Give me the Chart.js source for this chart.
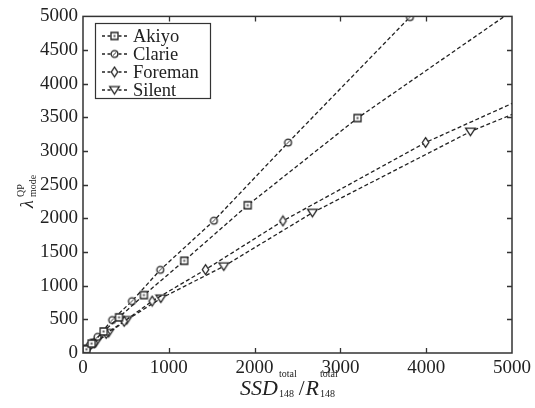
<!DOCTYPE html>
<html><head><meta charset="utf-8">
<script src="https://cdn.jsdelivr.net/npm/chart.js@4.4.0/dist/chart.umd.min.js"></script>
<style>html,body{margin:0;padding:0;background:#fff;}#wrap{width:535px;height:408px;position:relative;}</style>
</head><body><div id="wrap"><canvas id="c"></canvas></div>
<script>
// ---- data ----
const seriesNames = ['Akiyo', 'Clarie', 'Foreman', 'Silent'];
const akiyoX   = [15, 40, 100, 240, 420, 710, 1180, 1920, 3200, 5500];
const akiyoY   = [20, 55, 140, 320, 530, 860, 1370, 2195, 3490, 5520];
const clarieX  = [10, 30, 80, 170, 340, 570, 900, 1525, 2390, 3810];
const clarieY  = [15, 45, 115, 240, 490, 770, 1235, 1965, 3125, 4990];
const foremanX = [20, 50, 130, 270, 480, 806, 1428, 2330, 3993, 6300];
const foremanY = [25, 60, 150, 290, 470, 771, 1239, 1962, 3127, 4455];
const silentX  = [25, 60, 150, 300, 510, 907, 1641, 2674, 4515, 6500];
const silentY  = [28, 65, 155, 300, 491, 811, 1288, 2084, 3289, 4333];
const xTicks = [0, 1000, 2000, 3000, 4000, 5000];
const yTicks = [0, 500, 1000, 1500, 2000, 2500, 3000, 3500, 4000, 4500, 5000];

const INK = '#222';
const SERIF = '"Liberation Serif", "Times New Roman", serif';

function marker(kind){
  const c = document.createElement('canvas'); c.width = 13; c.height = 13;
  const g = c.getContext('2d'); g.strokeStyle = INK; g.fillStyle = '#fff'; g.lineWidth = 1.3;
  const m = 6.5;
  g.beginPath();
  if (kind === 'square') { g.rect(3, 3, 7, 7); }
  else if (kind === 'circle') { g.arc(m, m, 3.4, 0, 2*Math.PI); }
  else if (kind === 'diamond') { g.moveTo(m, m-4.8); g.lineTo(m+3.2, m); g.lineTo(m, m+4.8); g.lineTo(m-3.2, m); g.closePath(); }
  else { g.moveTo(m-4.8, m-3.3); g.lineTo(m+4.8, m-3.3); g.lineTo(m, m+4); g.closePath(); }
  g.fill(); g.stroke();
  if (kind === 'square') { g.fillStyle = '#555'; g.fillRect(5.5, 5.5, 2, 2); }
  if (kind === 'circle') { g.beginPath(); g.lineWidth = 0.9; g.moveTo(m-1.6, m+1.6); g.lineTo(m+1.6, m-1.6); g.stroke(); }
  return c;
}
const markers = [marker('square'), marker('circle'), marker('diamond'), marker('tri')];
const xs = [akiyoX, clarieX, foremanX, silentX];
const ys = [akiyoY, clarieY, foremanY, silentY];

const datasets = seriesNames.map((name, i) => ({
  label: name,
  data: xs[i].map((x, j) => ({x: x, y: ys[i][j]})),
  showLine: true,
  borderColor: INK,
  borderWidth: 1.3,
  borderDash: [4, 2.5],
  pointStyle: markers[i],
  pointRadius: 4,
  fill: false,
  clip: 0
}));

const TL = 5;
const deco = {
  id: 'deco',
  afterDraw(chart){
    const {ctx, chartArea: a, scales: {x, y}} = chart;
    ctx.save();
    // frame
    ctx.strokeStyle = '#333'; ctx.lineWidth = 1.5; ctx.setLineDash([]);
    ctx.strokeRect(a.left, a.top, a.right - a.left, a.bottom - a.top);
    // inward ticks, mirrored
    ctx.lineWidth = 1.3;
    ctx.beginPath();
    x.ticks.forEach(t => {
      const p = Math.round(x.getPixelForValue(t.value)) + 0.5;
      if (p <= a.left + 1 || p >= a.right - 1) return;
      ctx.moveTo(p, a.bottom); ctx.lineTo(p, a.bottom - TL);
      ctx.moveTo(p, a.top); ctx.lineTo(p, a.top + TL);
    });
    y.ticks.forEach(t => {
      const p = Math.round(y.getPixelForValue(t.value)) + 0.5;
      if (p <= a.top + 1 || p >= a.bottom - 1) return;
      ctx.moveTo(a.left, p); ctx.lineTo(a.left + TL, p);
      ctx.moveTo(a.right, p); ctx.lineTo(a.right - TL, p);
    });
    ctx.stroke();

    // legend
    const lx = 95.5, ly = 23.5, lw = 115, lh = 75;
    ctx.fillStyle = '#fff'; ctx.fillRect(lx, ly, lw, lh);
    ctx.strokeStyle = '#333'; ctx.lineWidth = 1.2; ctx.strokeRect(lx, ly, lw, lh);
    ctx.font = '18.5px ' + SERIF; ctx.textBaseline = 'middle'; ctx.textAlign = 'left'; ctx.fillStyle = INK;
    chart.data.datasets.forEach((ds, i) => {
      const cy = 36 + i * 18;
      ctx.strokeStyle = INK; ctx.lineWidth = 1.3; ctx.setLineDash([3, 2.5]);
      ctx.beginPath(); ctx.moveTo(102, cy); ctx.lineTo(127, cy); ctx.stroke();
      ctx.setLineDash([]);
      const m = ds.pointStyle; ctx.drawImage(m, 114.5 - m.width/2, cy - m.height/2);
      ctx.fillText(ds.label, 133, cy + 1);
    });

    // x axis title: SSD^total_148 / R^total_148
    ctx.fillStyle = INK; ctx.textBaseline = 'alphabetic';
    let px = 240; const base = 395;
    const part = (txt, font, dy) => { ctx.font = font; ctx.fillText(txt, px, base + dy); return ctx.measureText(txt).width; };
    const big = 'italic 22px ' + SERIF, bigUp = '21px ' + SERIF, small = '10px ' + SERIF;
    px += part('SSD', big, 0) + 1;
    let w1 = part('total', small, -18); let w2 = part('148', small, 2); px += Math.max(w1, w2) + 2;
    px += part('/', bigUp, 0) + 1;
    px += part('R', big, 0) + 1;
    part('total', small, -18); part('148', small, 2);

    // y axis title: lambda^QP_mode (rotated)
    ctx.save();
    ctx.translate(33, 188); ctx.rotate(-Math.PI/2);
    ctx.font = 'italic 18px ' + SERIF; ctx.textAlign = 'left';
    ctx.fillText('λ', -20, 0);
    ctx.font = '10px ' + SERIF;
    ctx.fillText('QP', -9, -9);
    ctx.fillText('mode', -9, 3);
    ctx.restore();

    ctx.restore();
  }
};

new Chart(document.getElementById('c'), {
  type: 'scatter',
  data: { datasets },
  options: {
    responsive: true, maintainAspectRatio: false, animation: false,
    devicePixelRatio: 1,
    layout: { padding: { top: 14, right: 21, left: 0, bottom: 0 } },
    plugins: { legend: { display: false }, tooltip: { enabled: false } },
    scales: {
      x: {
        type: 'linear', min: 0, max: 5000,
        afterBuildTicks: s => { s.ticks = xTicks.map(v => ({value: v})); },
        afterFit: s => { s.height = 55; },
        grid: { display: false, drawTicks: false },
        border: { display: false },
        ticks: { padding: 4, color: INK, font: { family: SERIF, size: 19 }, maxRotation: 0, callback: v => String(v) }
      },
      y: {
        type: 'linear', min: 0, max: 5000,
        afterBuildTicks: s => { s.ticks = yTicks.map(v => ({value: v})); },
        afterFit: s => { s.width = 83; },
        grid: { display: false, drawTicks: false },
        border: { display: false },
        ticks: { padding: 5, color: INK, font: { family: SERIF, size: 19 }, callback: v => String(v) }
      }
    }
  },
  plugins: [deco]
});
</script></body></html>
